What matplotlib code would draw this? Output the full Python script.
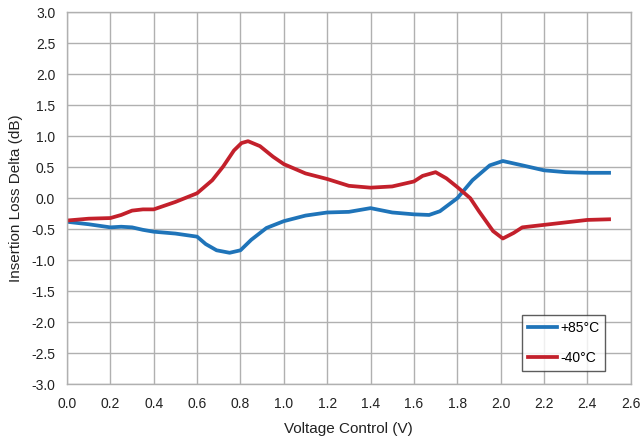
import matplotlib
matplotlib.use("Agg")
import matplotlib.pyplot as plt

plt.rcParams['font.family'] = ['Liberation Sans', 'DejaVu Sans']

v_hot = [0.0, 0.1, 0.2, 0.25, 0.3, 0.35, 0.4, 0.5, 0.6, 0.64, 0.69, 0.75, 0.8, 0.85, 0.92, 1.0, 1.1, 1.2,
         1.3, 1.4, 1.5, 1.6, 1.67, 1.72, 1.8, 1.87, 1.95, 2.01, 2.1, 2.2, 2.3, 2.4, 2.5]
il_hot = [-0.38, -0.42, -0.47, -0.46, -0.47, -0.51, -0.54, -0.57, -0.62, -0.74, -0.84, -0.88, -0.84, -0.67, -0.48, -0.37, -0.28, -0.23,
          -0.22, -0.16, -0.23, -0.26, -0.27, -0.21, 0.0, 0.29, 0.53, 0.60, 0.53, 0.45, 0.42, 0.41, 0.41]

v_cold = [0.0, 0.1, 0.2, 0.25, 0.3, 0.35, 0.4, 0.5, 0.6, 0.67, 0.72, 0.77, 0.805, 0.835, 0.89, 0.95, 1.0, 1.1, 1.2,
          1.3, 1.4, 1.5, 1.6, 1.64, 1.7, 1.75, 1.8, 1.86, 1.9, 1.965, 2.01, 2.06, 2.1, 2.2, 2.3, 2.4, 2.5]
il_cold = [-0.36, -0.33, -0.32, -0.27, -0.20, -0.18, -0.18, -0.06, 0.08, 0.29, 0.51, 0.77, 0.89, 0.92, 0.84, 0.67, 0.55, 0.40, 0.31,
           0.20, 0.17, 0.19, 0.27, 0.36, 0.42, 0.32, 0.18, 0.0, -0.21, -0.53, -0.65, -0.56, -0.47, -0.43, -0.39, -0.35, -0.34]

labels = ['+85°C', '-40°C']
colors = ['#1f74b9', '#c3202b']

fig = plt.figure(figsize=(6.41, 4.38), dpi=100)
ax = fig.add_axes([0.1045, 0.1228, 0.8795, 0.8493])

ax.plot(v_hot, il_hot, color=colors[0], lw=2.7, label=labels[0], solid_joinstyle='round')
ax.plot(v_cold, il_cold, color=colors[1], lw=2.7, label=labels[1], solid_joinstyle='round')

ax.set_xlim(0, 2.6)
ax.set_ylim(-3, 3)
ax.set_xticks([i * 0.2 for i in range(14)])
ax.set_yticks([-3 + i * 0.5 for i in range(13)])
ax.set_xticklabels([f"{i*0.2:.1f}" for i in range(14)])
ax.set_yticklabels([f"{-3 + i*0.5:.1f}" for i in range(13)])
ax.tick_params(length=0, labelsize=10, colors='#222222')
ax.tick_params(axis='x', pad=9)
ax.tick_params(axis='y', pad=8.5)
ax.grid(True, color='#b0b0b0', lw=1.0)
for s in ax.spines.values():
    s.set_color('#b0b0b0')
    s.set_linewidth(1.0)
ax.set_axisbelow(True)

ax.set_xlabel('Voltage Control (V)', fontsize=11, color='#222222', labelpad=8)
ax.set_ylabel('Insertion Loss Delta (dB)', fontsize=11, color='#222222', labelpad=6)

leg = ax.legend(loc='lower right', bbox_to_anchor=(0.955, 0.035), fontsize=10,
                frameon=True, fancybox=False, handlelength=2.1, handletextpad=0.2,
                labelspacing=1.15, borderpad=0.45, borderaxespad=0)
leg.get_frame().set_edgecolor('#333333')
leg.get_frame().set_linewidth(1.0)

fig.savefig('out.png', dpi=100)
